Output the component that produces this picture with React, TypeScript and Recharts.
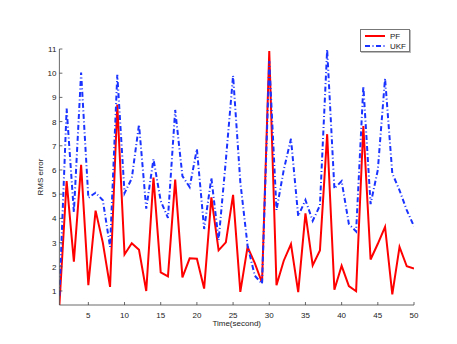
import { LineChart, Line, XAxis, YAxis, Legend } from "recharts";

// Time (s) 1..50
const times = [
  1, 2, 3, 4, 5, 6, 7, 8, 9, 10, 11, 12, 13, 14, 15, 16, 17, 18, 19, 20, 21,
  22, 23, 24, 25, 26, 27, 28, 29, 30, 31, 32, 33, 34, 35, 36, 37, 38, 39, 40,
  41, 42, 43, 44, 45, 46, 47, 48, 49, 50,
];

const pfValues = [
  0.42, 5.54, 2.21, 6.21, 1.24, 4.32, 3.0, 1.17, 8.7, 2.51, 2.97, 2.7, 1.0,
  5.69, 1.77, 1.6, 5.6, 1.56, 2.35, 2.33, 1.1, 4.87, 2.68, 3.01, 4.97, 0.96,
  2.82, 2.15, 1.34, 10.92, 1.24, 2.25, 2.94, 0.95, 4.21, 2.06, 2.67, 7.48,
  1.05, 2.04, 1.2, 0.99, 7.82, 2.3, 2.95, 3.65, 0.86, 2.82, 2.02, 1.93,
];

const ukfValues = [
  0.8, 8.54, 4.25, 10.03, 4.85, 5.06, 4.75, 2.82, 9.93, 5.04, 5.65, 7.88, 4.4,
  6.45, 4.72, 4.02, 8.48, 5.75, 5.29, 6.87, 3.56, 5.67, 3.1, 6.4, 9.9, 5.5,
  2.88, 1.63, 1.3, 10.5, 4.34, 6.0, 7.29, 4.09, 4.76, 3.9, 4.53, 10.98, 5.23,
  5.54, 3.77, 3.46, 9.46, 4.59, 6.0, 9.79, 5.86, 5.16, 4.34, 3.67,
];

const xTicks = [5, 10, 15, 20, 25, 30, 35, 40, 45, 50];
const yTicks = [1, 2, 3, 4, 5, 6, 7, 8, 9, 10, 11];

const data = times.map((t, i) => ({ t, pf: pfValues[i], ukf: ukfValues[i] }));

const FONT = "'Liberation Sans', Arial, sans-serif";
const AXIS = "#444";
const PF_COLOR = "#ff0000";
const UKF_COLOR = "#1a33ff";
const UKF_DASH = "5 2.5 1 2.5";

// matlab style ticks: mark points inward
function XTick({ x, y, payload }: any) {
  return (
    <g>
      <line x1={x} x2={x} y1={y} y2={y - 3} stroke={AXIS} strokeWidth={0.8} />
      <text x={x} y={y + 13} textAnchor="middle" fontSize={8} fill="#222" fontFamily={FONT}>
        {payload.value}
      </text>
    </g>
  );
}

function YTick({ x, y, payload }: any) {
  return (
    <g>
      <line x1={x} x2={x + 3} y1={y} y2={y} stroke={AXIS} strokeWidth={0.8} />
      <text x={x - 3} y={y + 3} textAnchor="end" fontSize={8} fill="#222" fontFamily={FONT}>
        {payload.value}
      </text>
    </g>
  );
}

function LegendBox() {
  return (
    <div
      style={{
        width: 50,
        height: 23,
        border: "1px solid #777",
        boxShadow: "1px 1px 0 #bbb",
        background: "#fff",
        fontFamily: FONT,
        fontSize: 8,
        color: "#222",
        boxSizing: "border-box",
      }}
    >
      <svg width={48} height={21}>
        <line x1={4} x2={24} y1={6} y2={6} stroke={PF_COLOR} strokeWidth={2} />
        <text x={29} y={9} fontSize={8} fill="#222" fontFamily={FONT}>PF</text>
        <line x1={4} x2={24} y1={16} y2={16} stroke={UKF_COLOR} strokeWidth={2} strokeDasharray={UKF_DASH} />
        <text x={29} y={19} fontSize={8} fill="#222" fontFamily={FONT}>UKF</text>
      </svg>
    </div>
  );
}

export default function App() {
  return (
    <div style={{ position: "absolute", left: 0, top: 0, width: 457, height: 344, background: "#fff" }}>
      <LineChart
        width={457}
        height={344}
        data={data}
        margin={{ top: 26, right: 43, left: 29, bottom: 9 }}
      >
        <XAxis
          dataKey="t"
          type="number"
          domain={[1, 50]}
          ticks={xTicks}
          tick={<XTick />}
          tickLine={false}
          tickSize={0}
          tickMargin={0}
          axisLine={{ stroke: AXIS, strokeWidth: 0.8 }}
          height={30}
          allowDataOverflow
          label={{
            value: "Time(second)",
            position: "insideBottom",
            offset: 9,
            fontSize: 8,
            fill: "#222",
            fontFamily: FONT,
          }}
        />
        <YAxis
          type="number"
          domain={[0.42, 11]}
          ticks={yTicks}
          tick={<YTick />}
          tickLine={false}
          tickSize={0}
          tickMargin={0}
          axisLine={{ stroke: AXIS, strokeWidth: 0.8 }}
          width={30.4}
          allowDataOverflow
          label={{
            value: "RMS error",
            angle: -90,
            position: "insideLeft",
            offset: 11,
            style: { textAnchor: "middle" },
            fontSize: 8,
            fill: "#222",
            fontFamily: FONT,
          }}
        />
        <Legend
          verticalAlign="top"
          content={() => <LegendBox />}
          wrapperStyle={{ position: "absolute", left: 360, top: 29, width: 50 }}
        />
        <Line
          dataKey="pf"
          stroke={PF_COLOR}
          strokeWidth={2}
          dot={false}
          isAnimationActive={false}
        />
        <Line
          dataKey="ukf"
          stroke={UKF_COLOR}
          strokeWidth={2}
          strokeDasharray={UKF_DASH}
          dot={false}
          isAnimationActive={false}
        />
      </LineChart>
    </div>
  );
}
